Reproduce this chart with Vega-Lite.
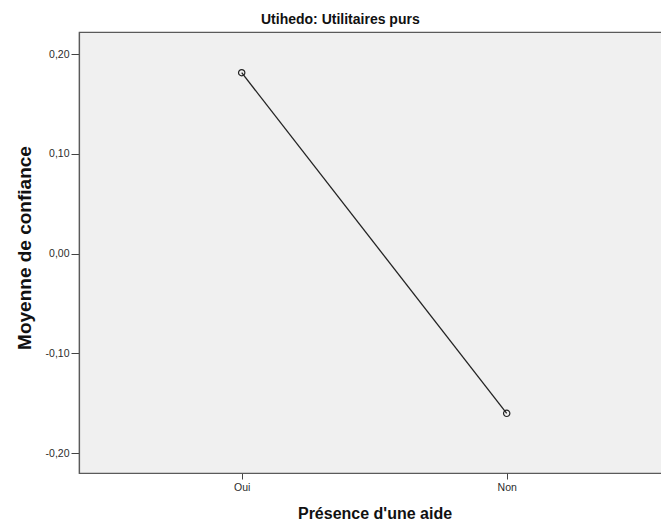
{
  "$schema": "https://vega.github.io/schema/vega-lite/v6.json",
  "width": 620,
  "height": 441,
  "autosize": "none",
  "padding": {"left": 79, "top": 32, "right": 0, "bottom": 49},
  "background": "white",
  "config": {
    "font": "Liberation Sans",
    "view": {"fill": "#f0f0f0", "stroke": "#5a5a5a", "strokeWidth": 1.2}
  },
  "title": {
    "text": "Utihedo: Utilitaires purs",
    "font": "Liberation Sans",
    "fontSize": 14,
    "fontWeight": "bold",
    "color": "#111111",
    "anchor": "start",
    "frame": "group",
    "dx": 182,
    "offset": 5
  },
  "data": {
    "values": [
      {"aide": "Oui", "moyenne": 0.1813},
      {"aide": "Non", "moyenne": -0.1602}
    ]
  },
  "encoding": {
    "x": {
      "field": "aide",
      "type": "nominal",
      "sort": ["Oui", "Non"],
      "scale": {"type": "point", "padding": 0, "range": [162.7, 427.7]},
      "axis": {
        "title": "Présence d'une aide",
        "titleFont": "Liberation Sans",
        "titleFontSize": 16,
        "titleFontWeight": "bold",
        "titleColor": "#111111",
        "titleBaseline": "alphabetic",
        "titleX": 295.5,
        "titleY": 45,
        "labelAngle": 0,
        "labelFont": "Liberation Sans",
        "labelFontSize": 10.5,
        "labelColor": "#2b2b2b",
        "labelPadding": 3,
        "tickSize": 6,
        "tickColor": "#444444",
        "domainColor": "#5a5a5a",
        "domainWidth": 1.2,
        "grid": false
      }
    },
    "y": {
      "field": "moyenne",
      "type": "quantitative",
      "scale": {"domain": [-0.22, 0.2221], "nice": false, "zero": false},
      "axis": {
        "title": "Moyenne de confiance",
        "titleFont": "Liberation Sans",
        "titleFontSize": 19,
        "titleFontWeight": "bold",
        "titleColor": "#111111",
        "titleAngle": 270,
        "titleBaseline": "alphabetic",
        "titleAlign": "center",
        "titleX": -49,
        "titleY": 215.5,
        "values": [-0.2, -0.1, 0, 0.1, 0.2],
        "labelExpr": "replace(replace(format(datum.value, '.2f'), '.', ','), '\u2212', '-')",
        "labelFont": "Liberation Sans",
        "labelFontSize": 10.5,
        "labelColor": "#2b2b2b",
        "labelPadding": 2,
        "tickSize": 8,
        "tickColor": "#444444",
        "domainColor": "#5a5a5a",
        "domainWidth": 1.2,
        "grid": false
      }
    }
  },
  "layer": [
    {"mark": {"type": "line", "color": "#222222", "strokeWidth": 1.3}},
    {"mark": {"type": "point", "shape": "circle", "filled": false, "color": "#222222", "size": 40, "strokeWidth": 1.2, "opacity": 1}}
  ]
}
